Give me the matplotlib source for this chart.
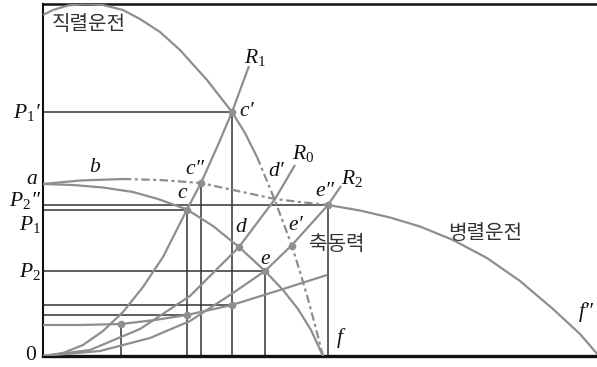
import matplotlib
matplotlib.use("Agg")
import matplotlib.pyplot as plt

plt.rcParams["mathtext.fontset"] = "custom"
plt.rcParams["mathtext.rm"] = "Liberation Serif"
plt.rcParams["mathtext.it"] = "Liberation Serif:italic"
plt.rcParams["lines.scale_dashes"] = False

# ---- data (Q = flow, H = head / power) ----
single_q = [0, 30, 60, 90, 115, 144, 170, 196, 222, 240, 255, 268, 280]
single_h = [172, 171, 168.5, 164, 157, 146.5, 130, 109, 85, 66, 47, 26, 0]

par_solid1_q = [0, 37, 80]
par_solid1_h = [172, 175.5, 177]
par_dash_q = [80, 117, 158, 197, 232, 257, 285]
par_dash_h = [177, 176, 173, 164.5, 157, 154, 151]
par_solid2_q = [285, 317, 347, 377, 410, 444, 477, 510, 537, 556]
par_solid2_h = [151, 145.5, 138.5, 129.5, 116, 98, 75, 47, 22, 0]

ser_solid_q = [0, 10, 25, 42, 60, 80, 97, 117, 137, 164, 189, 202, 214]
ser_solid_h = [341, 346, 350.5, 352, 351, 346, 337, 324, 306, 276, 244, 223, 199]
ser_dash_q = [214, 231, 240, 249, 257, 265, 272, 280]
ser_dash_h = [199, 158, 134, 110, 84, 57, 31, 0]

r1_q = [0, 20, 40, 60, 80, 100, 120, 144, 158, 175, 189, 206]
r1_h = [0, 3, 11, 25, 44, 69, 99, 146.5, 173, 211, 244, 290]
r0_q = [0, 47, 97, 147, 196, 232, 252]
r0_h = [0, 6, 27, 60, 109, 157, 191]
r2_q = [0, 57, 107, 147, 187, 222, 249, 285, 298]
r2_h = [0, 5, 18, 35, 61, 85, 111, 151, 170]

power_q = [0, 37, 78, 112, 144, 189, 237, 284]
power_h = [31, 31, 32, 36, 41, 51, 66, 81]

pt_q = [189, 158, 144, 196, 249, 222, 285, 78, 144, 189]
pt_h = [244, 173, 146.5, 109, 110, 85, 151, 32, 41, 51]

hguide_h = [244, 151, 146.5, 85, 51, 41]
hguide_q = [189, 285, 144, 222, 189, 144]
vguide_q = [78, 144, 158, 189, 222, 285]
vguide_h = [32, 146.5, 173, 244, 85, 151]

# ---- figure ----
W, H = 597, 367
fig = plt.figure(figsize=(W / 100, H / 100), dpi=100)
ax = fig.add_axes([43 / W, 11 / H, 554 / W, 352 / H])
ax.set_xlim(0, 554)
ax.set_ylim(0, 352)
ax.set_xticks([])
ax.set_yticks([])
ax.spines["right"].set_visible(False)
ax.spines["left"].set_linewidth(1.5)
ax.spines["top"].set_linewidth(1.8)
ax.spines["bottom"].set_linewidth(2.4)
for s in ax.spines.values():
    s.set_color("#111111")

gray = "#8e8e8e"
dark = "#333333"
glw = 1.6
dash = (0, (6, 2.5, 2.2, 2.5))

# guide lines
for h, q in zip(hguide_h, hguide_q):
    ax.plot([0, q], [h, h], color=dark, lw=1.1, zorder=2)
for q, h in zip(vguide_q, vguide_h):
    ax.plot([q, q], [0, h], color=dark, lw=1.1, zorder=2)

kw = dict(color=gray, lw=glw, solid_capstyle="butt", solid_joinstyle="round", zorder=3)
ax.plot(single_q, single_h, **kw)
ax.plot(par_solid1_q, par_solid1_h, **kw)
ax.plot(par_dash_q, par_dash_h, linestyle=dash, **kw)
ax.plot(par_solid2_q, par_solid2_h, **kw)
ax.plot(ser_solid_q, ser_solid_h, **kw)
ax.plot(ser_dash_q, ser_dash_h, linestyle=dash, **kw)
ax.plot(r1_q, r1_h, **kw)
ax.plot(r0_q, r0_h, **kw)
ax.plot(r2_q, r2_h, **kw)
ax.plot(power_q, power_h, **kw)
ax.scatter(pt_q, pt_h, s=30, color=gray, zorder=4, linewidths=0)

# ---- labels (pixel positions) ----
serif = ["Liberation Serif", "DejaVu Serif"]


def T(x, y, s, size=15.5, ha="center", va="center", **k):
    fig.text(x / W, 1 - y / H, s, fontsize=size, ha=ha, va=va,
             color="#111111", family=serif, fontstyle="italic", **k)


kor = dict(family=["Noto Sans CJK KR", "DejaVu Sans"], color="#333333")
fig.text(52 / W, 1 - 25 / H, "직렬운전", fontsize=14.5, ha="left", va="center", **kor)
fig.text(485 / W, 1 - 233 / H, "병렬운전", fontsize=14.5, ha="center", va="center", **kor)
fig.text(337 / W, 1 - 245 / H, "축동력", fontsize=14.5, ha="center", va="center", **kor)

T(255, 57, r"$R_1$")
T(303, 153, r"$R_0$")
T(352, 178, r"$R_2$")
T(239, 111, r"$c$′", ha="left")
T(195, 170, r"$c$″")
T(183, 193, r"$c$")
T(277, 172, r"$d$′")
T(241, 228, r"$d$")
T(325, 192, r"$e$″")
T(296, 226, r"$e$′")
T(266, 259, r"$e$")
T(341, 338, r"$f$")
T(587, 312, r"$f$″")
T(32, 180, r"$a$")
T(95, 168, r"$b$")
T(41, 112, r"$P_1$′", ha="right")
T(41, 200, r"$P_2$″", ha="right")
T(41, 225, r"$P_1$", ha="right")
T(41, 271, r"$P_2$", ha="right")
fig.text(31 / W, 1 - 356 / H, "0", fontsize=15.5, ha="center", va="center",
         color="#111111", family=serif)

fig.savefig("out.png", dpi=100)
